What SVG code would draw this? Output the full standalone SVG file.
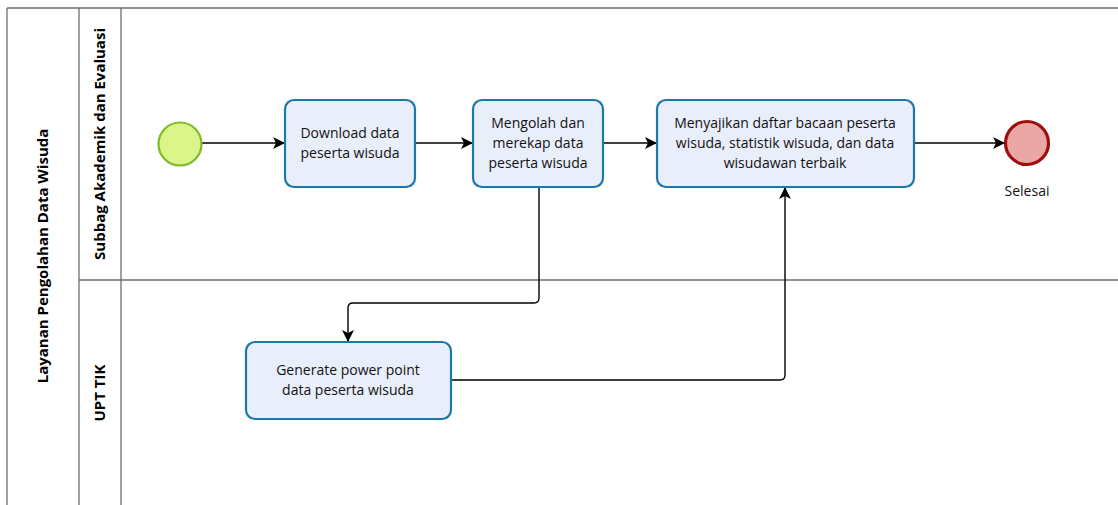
<svg xmlns="http://www.w3.org/2000/svg" width="1118" height="505" viewBox="0 0 1118 505">
<defs>
<style>
.lane{fill:none;stroke:#6e6e6e;stroke-width:1.3}
.task{fill:#e9eefb;stroke:#1c78a8;stroke-width:2.2}
.t{font-family:"Open Sans","DejaVu Sans",sans-serif;font-size:14px;fill:#111;text-anchor:middle}
.h{font-family:"Open Sans","DejaVu Sans",sans-serif;font-size:15px;font-weight:bold;fill:#000;text-anchor:middle}
.c{fill:none;stroke:#000;stroke-width:1.4}
</style>
<marker id="arr" viewBox="0 0 12 12" refX="11" refY="6" markerWidth="12" markerHeight="12" markerUnits="userSpaceOnUse" orient="auto">
<path d="M0,0 L12,6 L0,12 L3,6 Z" fill="#000"/>
</marker>
</defs>
<rect width="1118" height="505" fill="#fff"/>
<g id="pool">
<line class="lane" x1="7" y1="8" x2="1118" y2="8"/>
<line class="lane" x1="7" y1="8" x2="7" y2="505" stroke="#333"/>
<line class="lane" x1="79" y1="8" x2="79" y2="505"/>
<line class="lane" x1="121" y1="8" x2="121" y2="505"/>
<line class="lane" x1="79" y1="280" x2="1118" y2="280"/>
<text class="h" transform="translate(48,256) rotate(-90)">Layanan Pengolahan Data Wisuda</text>
<text class="h" transform="translate(105,144) rotate(-90)">Subbag Akademik dan Evaluasi</text>
<text class="h" transform="translate(105,393) rotate(-90)">UPT TIK</text>
</g>
<g id="connectors">
<line class="c" x1="202" y1="143" x2="284" y2="143" marker-end="url(#arr)"/>
<line class="c" x1="415" y1="143" x2="472" y2="143" marker-end="url(#arr)"/>
<line class="c" x1="603" y1="143" x2="656" y2="143" marker-end="url(#arr)"/>
<line class="c" x1="914" y1="143" x2="1004" y2="143" marker-end="url(#arr)"/>
<path class="c" d="M539,187 V298 Q539,303 534,303 H353 Q348,303 348,308 V341" marker-end="url(#arr)"/>
<path class="c" d="M451,380 H780 Q785,380 785,375 V188" marker-end="url(#arr)"/>
</g>
<g id="start">
<circle cx="180" cy="144" r="21.5" fill="#dcf58a" stroke="#7cbb2a" stroke-width="2.2"/>
</g>
<g id="task1">
<rect class="task" x="285" y="100" width="130" height="87" rx="9"/>
<text class="t" x="350" y="138">Download data</text>
<text class="t" x="350" y="158">peserta wisuda</text>
</g>
<g id="task2">
<rect class="task" x="473" y="100" width="130" height="87" rx="9"/>
<text class="t" x="538" y="128">Mengolah dan</text>
<text class="t" x="538" y="148">merekap data</text>
<text class="t" x="538" y="168">peserta wisuda</text>
</g>
<g id="task3">
<rect class="task" x="657" y="100" width="257" height="87" rx="9"/>
<text class="t" x="785" y="128">Menyajikan daftar bacaan peserta</text>
<text class="t" x="785" y="148">wisuda, statistik wisuda, dan data</text>
<text class="t" x="785" y="168">wisudawan terbaik</text>
</g>
<g id="end">
<circle cx="1027" cy="143" r="21.5" fill="#eba6a6" stroke="#a00d0d" stroke-width="3.2"/>
<text class="t" x="1027" y="196">Selesai</text>
</g>
<g id="task4">
<rect class="task" x="246" y="342" width="205" height="77" rx="9"/>
<text class="t" x="348" y="375">Generate power point</text>
<text class="t" x="348" y="395">data peserta wisuda</text>
</g>
</svg>
